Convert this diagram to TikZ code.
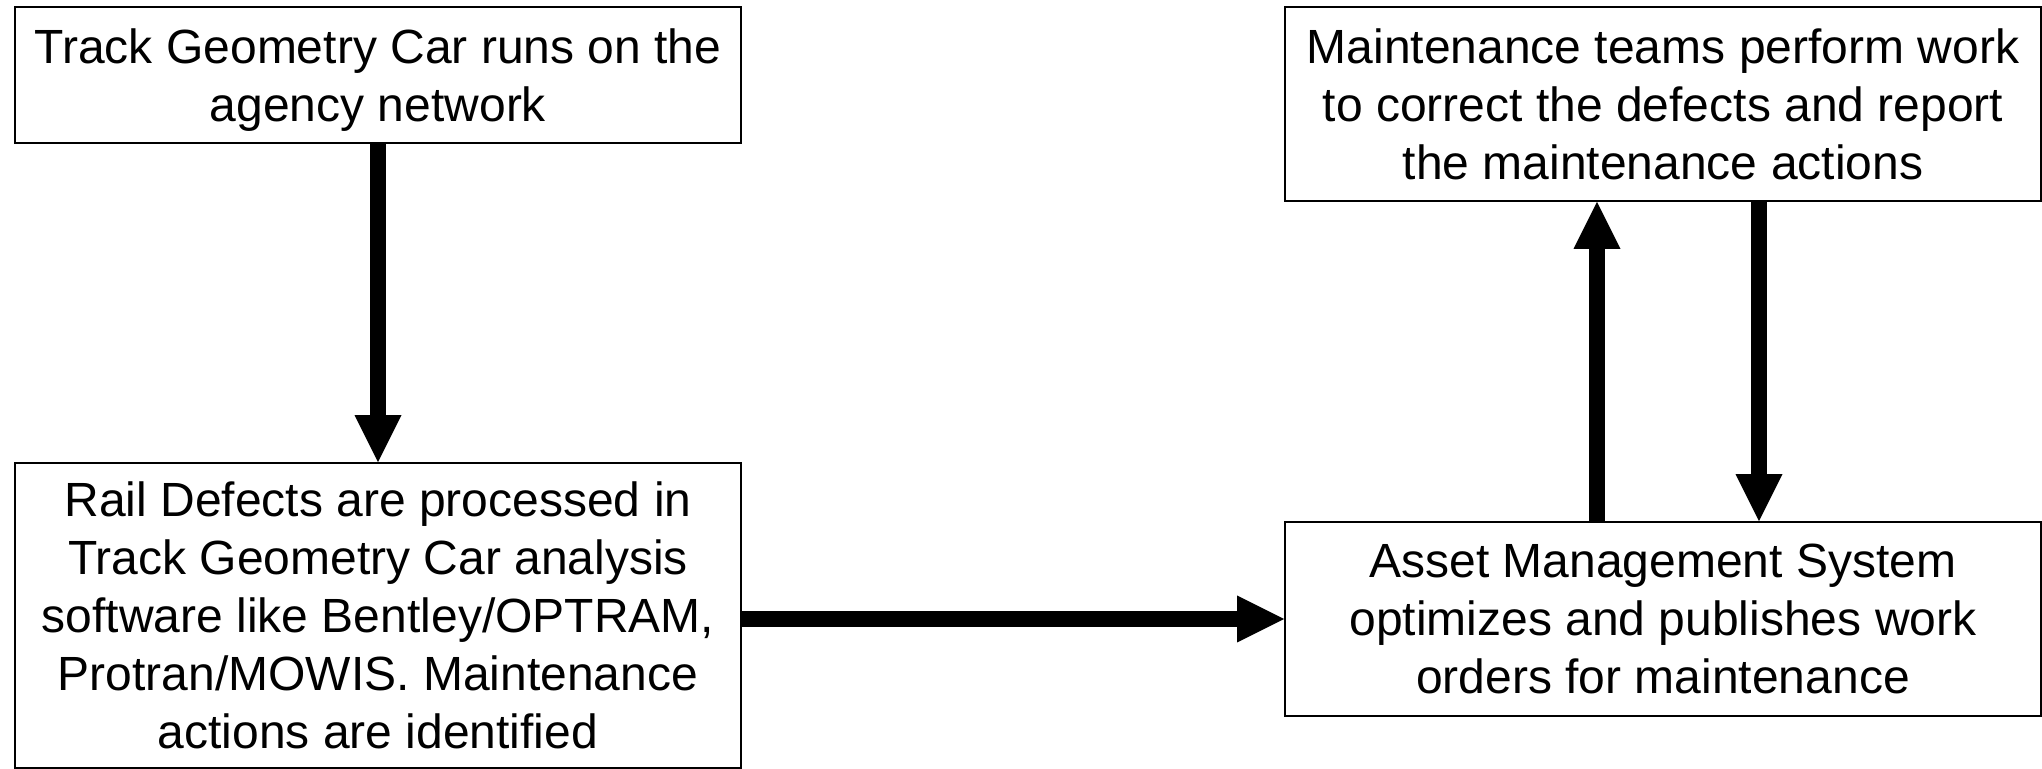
\documentclass[tikz,border=0pt]{standalone}
\usepackage{fontspec}
\setmainfont{Liberation Sans}
\usepackage{tikz}
\usetikzlibrary{arrows.meta}
\tikzstyle{etapa}=[rectangle, draw=black, line width=0.9pt, fill=white, inner sep=0pt, align=center, text depth=0pt, font=\fontsize{24}{29}\selectfont]
\tikzstyle{seta}=[line width=7.75pt, -{Triangle[length=23.5pt, width=23.5pt, line width=0pt]}]

\begin{document}
\begin{tikzpicture}[x=0.5pt, y=-0.5pt]
			\useasboundingbox (0,0) rectangle (2042,769);
			\node[etapa, minimum width=363pt, minimum height=68pt] (carro) at (378,75) {Track Geometry Car runs on the\\agency network};
			\node[etapa, minimum width=363pt, minimum height=152.5pt] (defeitos) at (378,615.5) {Rail Defects are processed in\\Track Geometry Car analysis\\software like Bentley/OPTRAM,\\Protran/MOWIS. Maintenance\\actions are identified};
			\node[etapa, minimum width=378pt, minimum height=97pt] (equipes) at (1663,104) {Maintenance teams perform work\\to correct the defects and report\\the maintenance actions};
			\node[etapa, minimum width=378pt, minimum height=97pt] (sistema) at (1663,619) {Asset Management System\\optimizes and publishes work\\orders for maintenance};
			\draw[seta] (carro) -- (defeitos);
			\draw[seta] (defeitos.east |- sistema) -- (sistema);
			\draw[seta] ([xshift=-33pt]sistema.north) -- ([xshift=-33pt]equipes.south);
			\draw[seta] ([xshift=48pt]equipes.south) -- ([xshift=48pt]sistema.north);
		\end{tikzpicture}
\end{document}
